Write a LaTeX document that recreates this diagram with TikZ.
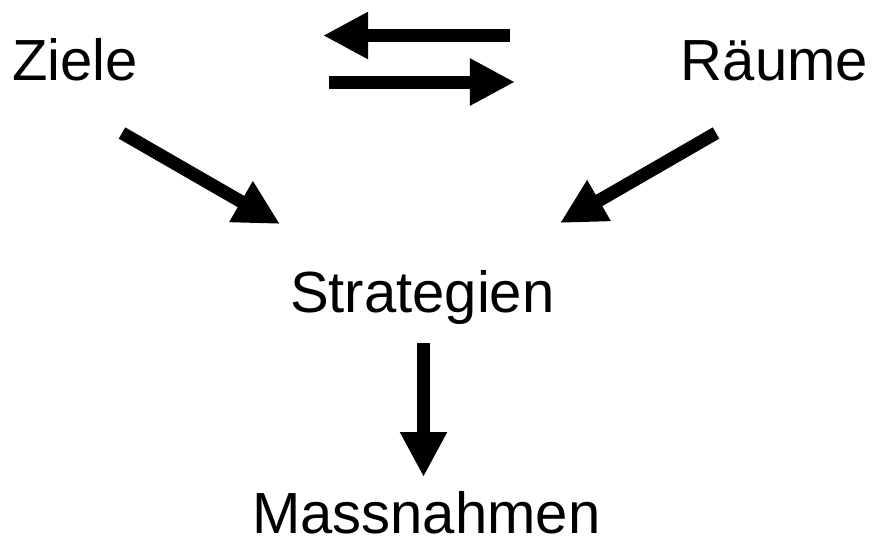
\documentclass[tikz,border=0pt]{standalone}
\usepackage{fontspec}
\setmainfont{Liberation Sans}
\usetikzlibrary{arrows.meta}

\begin{document}
\begin{tikzpicture}[
  x=0.01cm,y=-0.01cm,
  font=\fontsize{16.5}{20}\selectfont,
  label/.style={inner sep=0pt,outer sep=0pt},
  arr/.style={-{Triangle[length=4.5mm,width=4.4mm]},line width=1.3mm}
]
\useasboundingbox (0,0) rectangle (880,544);
% texts
\node[label,anchor=base west] (ziele) at (12,80) {Ziele};
\node[label,anchor=base east] (raeume) at (868,80) {Räume};
\node[label,anchor=base west] (strat) at (290,312) {Strategien};
\node[label,anchor=base west] (mass) at (252,533) {Massnahmen};
% arrow ends
\coordinate (backS) at (510,35.5);
\coordinate (backE) at (323,35.5);
\coordinate (forS) at (329,82);
\coordinate (forE) at (515,82);
\coordinate (zS) at (122,133);
\coordinate (zE) at (280,224);
\coordinate (rS) at (716,133);
\coordinate (rE) at (560,223);
\coordinate (sS) at (423.5,343);
\coordinate (sE) at (423.5,477);
\draw[arr] (backS) -- (backE);
\draw[arr] (forS) -- (forE);
\draw[arr] (zS) -- (zE);
\draw[arr] (rS) -- (rE);
\draw[arr] (sS) -- (sE);
\end{tikzpicture}
\end{document}
